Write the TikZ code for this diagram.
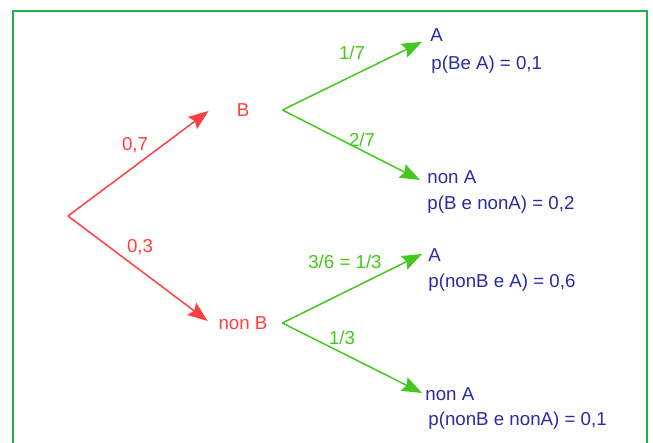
\documentclass[tikz,border=0pt]{standalone}
\usepackage{fontspec}
\setmainfont{Liberation Sans}
\usetikzlibrary{arrows.meta}
\definecolor{treered}{HTML}{FF4040}
\definecolor{treegreen}{HTML}{44C81E}
\definecolor{treeblue}{HTML}{2B2BA3}
\definecolor{framegreen}{HTML}{1EB04A}
\begin{document}
\begin{tikzpicture}[x=0.5pt,y=-0.5pt,>={Stealth[length=10pt,width=7.5pt,inset=1.5pt]},font=\fontsize{9.35}{11}\selectfont,
		lbl/.style={inner sep=0pt},
		leaf/.style={inner sep=0pt,anchor=west,text=treeblue},
		redbr/.style={->,treered,line width=0.75pt},
		greenbr/.style={->,treegreen,line width=0.75pt}]
				\useasboundingbox (0,0) rectangle (653,443);
				\draw[framegreen,line width=1pt] (13,443) -- (13,11) -- (647,11) -- (647,443);
				% first stage
				\coordinate (root) at (68,216);
				\node[lbl,text=treered] (b) at (243,110) {B};
				\node[lbl,text=treered] (nb) at (243,323) {non B};
				\draw[redbr] (root) -- ([xshift=-13.9pt,yshift=-0.5pt]b.west);
				\draw[redbr] (root) -- ([xshift=-5.2pt,yshift=1pt]nb.west);
				\node[lbl,text=treered] (pb) at (135,145) {0,7};
				\node[lbl,text=treered] (pnb) at (140,247) {0,3};
				% second stage
				\node[leaf] (a1) at (430,35) {A};
				\node[leaf] (pa1) at (431,65) {p(Be A) = 0,1};
				\node[leaf] (na1) at (427,177) {non A};
				\node[leaf] (pna1) at (427,205) {p(B e nonA) = 0,2};
				\node[leaf] (a2) at (428,255) {A};
				\node[leaf] (pa2) at (428,283) {p(nonB e A) = 0,6};
				\node[leaf] (na2) at (425,394) {non A};
				\node[leaf] (pna2) at (428,421) {p(nonB e nonA) = 0,1};
				\draw[greenbr] ([xshift=16.4pt]b.east) -- ([xshift=-4pt]a1.south west);
				\draw[greenbr] ([xshift=16.4pt]b.east) -- ([xshift=-3.5pt,yshift=-1.5pt]na1.west);
				\draw[greenbr] ([xshift=7.25pt]nb.east) -- ([xshift=-3pt,yshift=0.5pt]a2.west);
				\draw[greenbr] ([xshift=7.25pt]nb.east) -- ([xshift=-1.5pt,yshift=0.5pt]na2.west);
				\node[lbl,text=treegreen] (q1) at (352,53) {1/7};
				\node[lbl,text=treegreen] (q2) at (362,140) {2/7};
				\node[lbl,text=treegreen] (q3) at (345,262) {3/6 = 1/3};
				\node[lbl,text=treegreen] (q4) at (342,338) {1/3};
			\end{tikzpicture}
\end{document}
